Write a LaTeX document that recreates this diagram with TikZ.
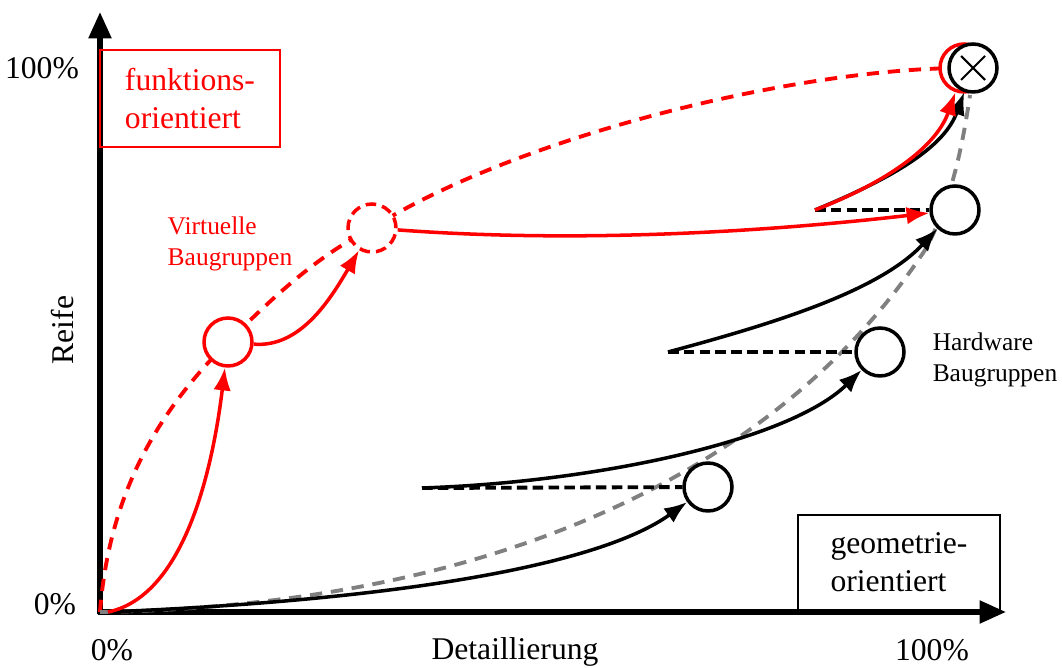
\documentclass[tikz,border=0pt]{standalone}
\usepackage{fontspec}
\setmainfont{Liberation Serif}
\usepackage{tikz}
\usetikzlibrary{calc,arrows.meta}
\definecolor{rf-red}{HTML}{FF0000}
\definecolor{rf-gray}{HTML}{808080}

\tikzset{
    achse/.style={line width=3pt, -{Triangle[length=15pt,width=12.5pt]}},
    stufe/.style={circle, draw, line width=2pt, fill=white, minimum size=27.3pt, inner sep=0pt},
    pfeil/.style={line width=2pt, -{Latex[length=13pt,width=10pt]}},
    leitlinie/.style={line width=2.2pt, dash pattern=on 7pt off 5pt},
    grosstext/.style={font=\fontsize{18}{21.5}\selectfont},
    kleintext/.style={font=\fontsize{14.5}{18}\selectfont}
}

\begin{document}
\begin{tikzpicture}[x=0.02cm, y=-0.02cm]
    \useasboundingbox (0,0) rectangle (1062,668);

    % Achsen
    \coordinate (O) at (100,612);
    \draw[achse] (100,614.5) -- (100,12);
    \draw[achse] (97.5,612) -- (1006,612);

    \node[grosstext] (yhundert) at (42,68) {100\%};
    \node[grosstext] (ynull) at (55,604) {0\%};
    \node[grosstext] (xnull) at (112,650) {0\%};
    \node[grosstext] (xhundert) at (932,650) {100\%};
    \node[grosstext] (xlabel) at (515,652) {Detaillierung};
    \node[grosstext, rotate=90] (ylabel) at (63,330) {Reife};

    % Mittelpunkte der Stufen
    \coordinate (v1c) at (228,342);
    \coordinate (v2c) at (372,228);
    \coordinate (gc) at (964,68);
    \coordinate (s1) at (422,488);
    \coordinate (s2) at (668,352);
    \coordinate (s3) at (815,210);

    % Leitkurven
    \draw[rf-red, leitlinie] (O) .. controls (110,480) and (170,400) .. (v1c)
        .. controls (280,290) and (320,255) .. (v2c)
        .. controls (520,135) and (800,68) .. (gc);
    \draw[rf-gray, leitlinie] (O) .. controls (520,605) and (790,455) .. (925,250)
        .. controls (950,205) and (962,150) .. (970,95);

    % Stufen
    \node[stufe, draw=rf-red] (v1) at (v1c) {};
    \node[stufe, draw=rf-red, dash pattern=on 6pt off 3.5pt] (v2) at (v2c) {};
    \node[stufe] (h1) at (708,487) {};
    \node[stufe] (h2) at (880,352) {};
    \node[stufe] (h3) at (955,210) {};
    \node[stufe, draw=rf-red] (fz) at (964,68) {};
    \node[stufe] (ziel) at (973,68) {};
    \draw[line width=1.2pt] ($(ziel)+(-12,-12)$) -- ($(ziel)+(12,12)$);
    \draw[line width=1.2pt] ($(ziel)+(-12,12)$) -- ($(ziel)+(12,-12)$);

    % Hardware Baugruppen
    \draw[leitlinie, dash pattern=on 6pt off 3pt] (s1) -- (h1);
    \draw[leitlinie, dash pattern=on 6pt off 3pt] (s2) -- (h2);
    \draw[leitlinie, dash pattern=on 6pt off 3pt] (s3) -- (h3);
    \draw[pfeil] (108,612) .. controls (400,600) and (600,565) .. (h1);
    \draw[pfeil] (s1) .. controls (600,482) and (790,440) .. (h2);
    \draw[pfeil] (s2) .. controls (780,322) and (880,290) .. (h3);
    \draw[pfeil] (s3) .. controls (900,175) and (945,145) .. (ziel);

    % Virtuelle Baugruppen
    \draw[pfeil, rf-red] (108,612) .. controls (190,595) and (215,450) .. (v1);
    \draw[pfeil, rf-red] (v1) .. controls (300,348) and (330,300) .. (v2);
    \draw[pfeil, rf-red] (v2) .. controls (600,245) and (800,228) .. (h3);
    \draw[pfeil, rf-red] (s3) .. controls (880,185) and (935,150) .. (fz);

    \node[kleintext, rf-red, align=left] (virt) at (230,244) {Virtuelle\\Baugruppen};
    \node[kleintext, align=left] (hard) at (995,360) {Hardware\\Baugruppen};

    % Kaesten
    \node[grosstext, draw=rf-red, line width=0.9pt, text=rf-red, align=left,
          minimum width=102.4pt, minimum height=55.2pt] (funk) at (190,98.5) {funktions-\\orientiert};
    \node[grosstext, draw, line width=0.9pt, align=left,
          minimum width=115pt, minimum height=54pt] (geo) at (899,562.5) {geometrie-\\orientiert};
\end{tikzpicture}
\end{document}
